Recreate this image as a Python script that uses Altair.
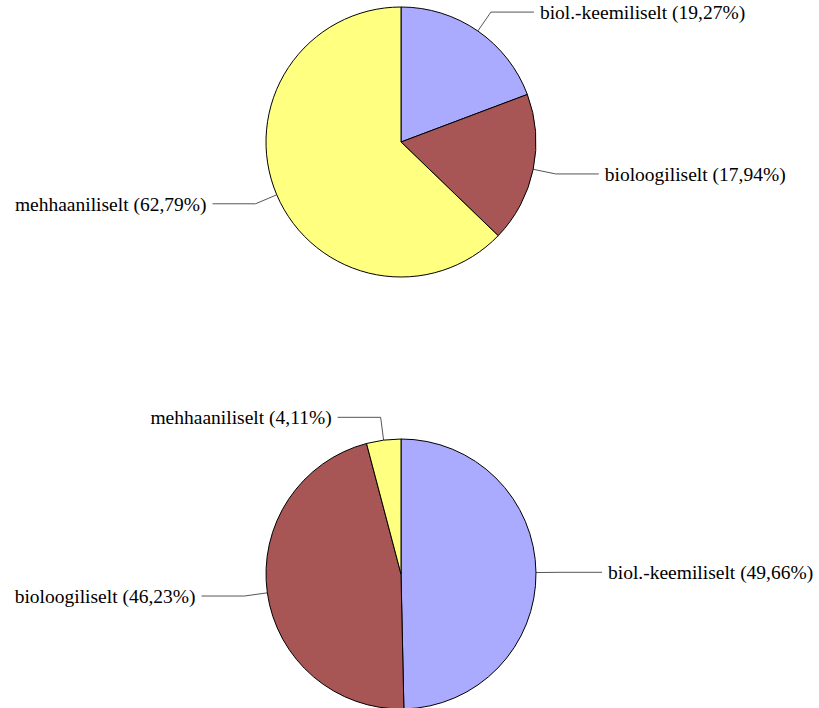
import math
import altair as alt
import pandas as pd

# Shares (%) per treatment stage, two pies
categories = ["biol.-keemiliselt", "bioloogiliselt", "mehhaaniliselt"]
share_top = [19.27, 17.94, 62.79]
share_bottom = [49.66, 46.23, 4.11]
colors = ["#aaaaff", "#a85555", "#ffff80"]

W, H = 819, 708
RADIUS = 135
CENTERS = {"top": (401, 142), "bottom": (401, 574)}
RADIAL = 23      # length of the radial part of a leader line
ELBOW = 43       # length of the horizontal part
GAP = 6          # space between the leader end and the label
FONT = "serif"
FONT_SIZE = 19.5


def pie_frame(pie, shares):
    return pd.DataFrame({
        "pie": pie,
        "category": categories,
        "share": shares,
        "idx": list(range(len(categories))),
    })


def label_geometry(pie, shares):
    cx, cy = CENTERS[pie]
    total = sum(shares)
    segs, texts = [], []
    start = 0.0
    for cat, v in zip(categories, shares):
        mid = (start + v / 2) / total * 2 * math.pi
        start += v
        dx, dy = math.sin(mid), -math.cos(mid)
        ex, ey = cx + RADIUS * dx, cy + RADIUS * dy
        bx, by = cx + (RADIUS + RADIAL) * dx, cy + (RADIUS + RADIAL) * dy
        side = 1 if dx >= 0 else -1
        tx = bx + side * ELBOW
        segs.append({"x": ex, "y": ey, "x2": bx, "y2": by})
        segs.append({"x": bx, "y": by, "x2": tx, "y2": by})
        label = f"{cat} ({f'{v:.2f}'.replace('.', ',')}%)"
        texts.append({"x": tx + side * GAP, "y": by + 7, "label": label,
                      "side": "right" if side > 0 else "left"})
    return segs, texts


xs = alt.Scale(domain=[0, W], range=[0, W])
ys = alt.Scale(domain=[0, H], range=[0, H])
color_scale = alt.Scale(domain=categories, range=colors)

layers = []
all_segs, all_texts = [], []
for pie, shares in (("top", share_top), ("bottom", share_bottom)):
    cx, cy = CENTERS[pie]
    arc = alt.Chart(pie_frame(pie, shares)).mark_arc(
        outerRadius=RADIUS, stroke="black", strokeWidth=1
    ).encode(
        theta=alt.Theta("share:Q", stack=True),
        order=alt.Order("idx:Q"),
        color=alt.Color("category:N", scale=color_scale, legend=None),
        x=alt.value(cx),
        y=alt.value(cy),
    )
    layers.append(arc)
    s, t = label_geometry(pie, shares)
    all_segs += s
    all_texts += t

leaders = alt.Chart(pd.DataFrame(all_segs)).mark_rule(
    color="#555555", strokeWidth=1
).encode(
    x=alt.X("x:Q", scale=xs, axis=None),
    y=alt.Y("y:Q", scale=ys, axis=None),
    x2="x2:Q",
    y2="y2:Q",
)

tdf = pd.DataFrame(all_texts)
text_base = alt.Chart(tdf).encode(
    x=alt.X("x:Q", scale=xs, axis=None),
    y=alt.Y("y:Q", scale=ys, axis=None),
    text="label:N",
)
right_labels = text_base.transform_filter(alt.datum.side == "right").mark_text(
    align="left", baseline="alphabetic", font=FONT, fontSize=FONT_SIZE, color="black"
)
left_labels = text_base.transform_filter(alt.datum.side == "left").mark_text(
    align="right", baseline="alphabetic", font=FONT, fontSize=FONT_SIZE, color="black"
)

chart = alt.layer(leaders, *layers, right_labels, left_labels).properties(
    width=W, height=H, padding=0, autosize=alt.AutoSizeParams(type="none"),
    background="white",
).configure_view(stroke=None)

chart.save("out.html", embed_options={"renderer": "svg", "actions": False})
